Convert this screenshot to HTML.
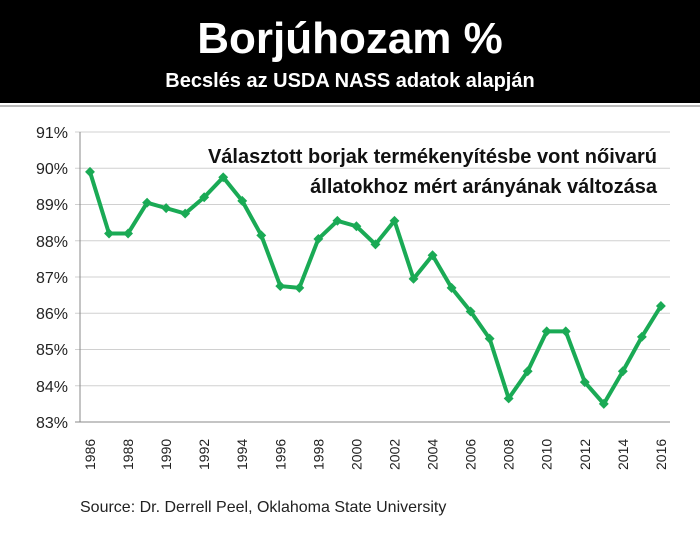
<!DOCTYPE html><html><head><style>body{margin:0;width:700px;height:530px;background:#fff;overflow:hidden;font-family:"Liberation Sans",sans-serif}</style></head><body>
<svg width="700" height="530" xmlns="http://www.w3.org/2000/svg">
<rect x="0" y="0" width="700" height="103" fill="#000"/>
<line x1="0" y1="106" x2="700" y2="106" stroke="#bbb" stroke-width="2"/>
<text x="350" y="53" text-anchor="middle" fill="#fff" font-size="44" font-weight="bold">Borjúhozam %</text>
<text x="350" y="87" text-anchor="middle" fill="#fff" font-size="20" font-weight="bold">Becslés az USDA NASS adatok alapján</text>
<g stroke="#d0d0d0" stroke-width="1">
<line x1="75" y1="132" x2="670" y2="132"/><line x1="75" y1="168.25" x2="670" y2="168.25"/><line x1="75" y1="204.5" x2="670" y2="204.5"/><line x1="75" y1="240.75" x2="670" y2="240.75"/><line x1="75" y1="277" x2="670" y2="277"/><line x1="75" y1="313.25" x2="670" y2="313.25"/><line x1="75" y1="349.5" x2="670" y2="349.5"/><line x1="75" y1="385.75" x2="670" y2="385.75"/>
</g>
<line x1="80" y1="132" x2="80" y2="422" stroke="#888"/>
<line x1="75" y1="422" x2="670" y2="422" stroke="#888"/>
<g font-size="16" fill="#222" text-anchor="end">
<text x="68" y="138">91%</text><text x="68" y="174">90%</text><text x="68" y="210">89%</text><text x="68" y="247">88%</text><text x="68" y="283">87%</text><text x="68" y="319">86%</text><text x="68" y="355">85%</text><text x="68" y="392">84%</text><text x="68" y="428">83%</text>
</g>
<g font-size="14" fill="#222" id="xl"></g>
<text x="657" y="163" text-anchor="end" font-size="20" font-weight="bold" fill="#111">Választott borjak termékenyítésbe vont nőivarú</text>
<text x="657" y="193" text-anchor="end" font-size="20" font-weight="bold" fill="#111">állatokhoz mért arányának változása</text>
<polyline id="ln" fill="none" stroke="#1aaa55" stroke-width="4" stroke-linejoin="round"/>
<g id="pts" fill="#1aaa55"></g>
<text x="80" y="512" font-size="16" fill="#222">Source: Dr. Derrell Peel, Oklahoma State University</text>
</svg>
<script>
var d=[89.9,88.2,88.2,89.05,88.9,88.75,89.2,89.75,89.1,88.15,86.75,86.7,88.05,88.55,88.4,87.9,88.55,86.95,87.6,86.7,86.05,85.3,83.65,84.4,85.5,85.5,84.1,83.5,84.4,85.35,86.2];
var ns="http://www.w3.org/2000/svg",p=[],g=document.getElementById('pts'),xl=document.getElementById('xl');
d.forEach(function(v,i){var x=90+i*19.03,y=132+(91-v)*36.25;p.push(x+','+y);
var r=document.createElementNS(ns,'rect');r.setAttribute('x',x-3.5);r.setAttribute('y',y-3.5);r.setAttribute('width',7);r.setAttribute('height',7);r.setAttribute('transform','rotate(45 '+x+' '+y+')');g.appendChild(r);
if(i%2==0){var t=document.createElementNS(ns,'text');t.setAttribute('transform','translate('+(x+5)+',470) rotate(-90)');t.textContent=1986+i;xl.appendChild(t);}});
document.getElementById('ln').setAttribute('points',p.join(' '));
</script>
</body></html>
